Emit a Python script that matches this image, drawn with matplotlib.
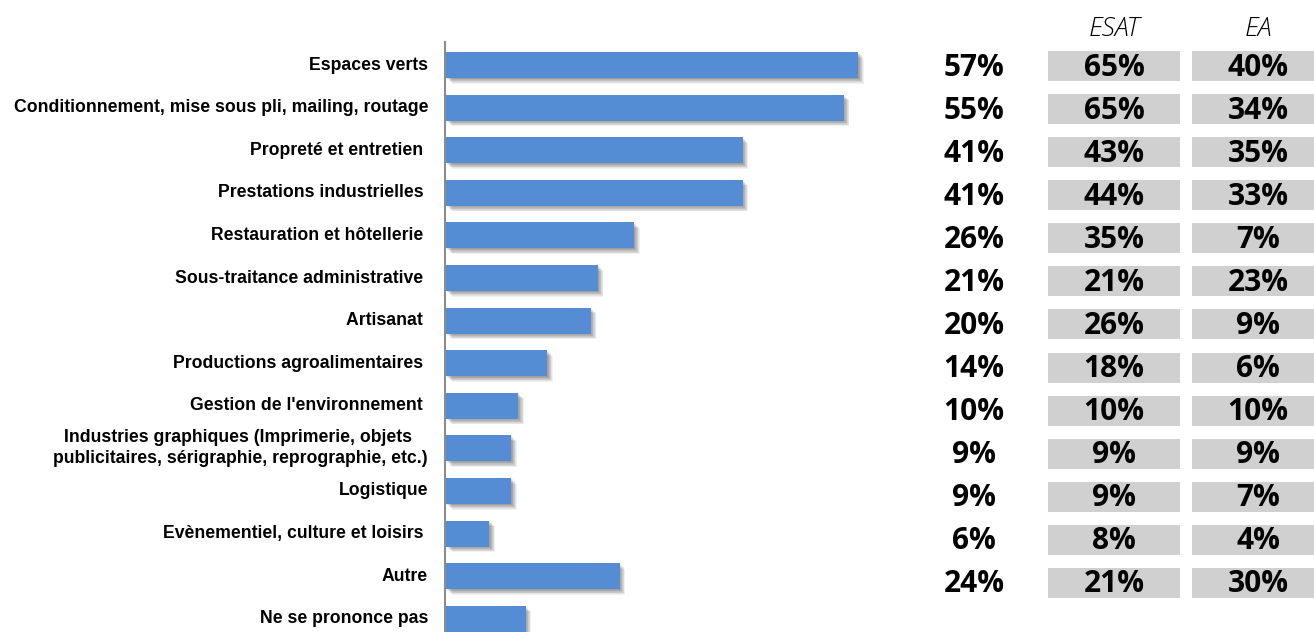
import matplotlib
matplotlib.use("Agg")
import matplotlib.pyplot as plt
import matplotlib.patheffects as pe

categories = [
    "Espaces verts",
    "Conditionnement, mise sous pli, mailing, routage",
    "Propreté et entretien ",
    "Prestations industrielles ",
    "Restauration et hôtellerie ",
    "Sous-traitance administrative ",
    "Artisanat ",
    "Productions agroalimentaires ",
    "Gestion de l'environnement ",
    "Industries graphiques (Imprimerie, objets \npublicitaires, sérigraphie, reprographie, etc.)",
    "Logistique",
    "Evènementiel, culture et loisirs ",
    "Autre",
    "Ne se prononce pas",
]
total = [57, 55, 41, 41, 26, 21, 20, 14, 10, 9, 9, 6, 24, 11]
esat = [65, 65, 43, 44, 35, 21, 26, 18, 10, 9, 9, 8, 21]
ea = [40, 34, 35, 33, 7, 23, 9, 6, 10, 9, 7, 4, 30]
column_headers = ["ESAT", "EA"]

W, H, DPI = 1314, 632, 100
BAR_COLOR = "#548DD4"
BOX_COLOR = "#D0D0D0"

fig = plt.figure(figsize=(W / DPI, H / DPI), dpi=DPI)

# Bar panel
ax = fig.add_axes([445 / W, 0, 480 / W, (H - 42) / H])
ax.set_xlim(0, 480 / 7.23)
ax.set_ylim(13.31, -0.54)
ypos = list(range(len(categories)))

# soft drop shadow built from several faint offset copies
shadow = []
for k in range(8, 0, -1):
    off = 0.5 * k
    shadow.append(pe.SimplePatchShadow(offset=(off, -off), shadow_rgbFace="#000000",
                                       alpha=0.055))
shadow.append(pe.Normal())

bars = ax.barh(ypos, total, height=0.61, color=BAR_COLOR, left=0.15, zorder=2)
for b in bars:
    b.set_path_effects(shadow)

for s in ["top", "right", "bottom"]:
    ax.spines[s].set_visible(False)
ax.spines["left"].set_color("#8C8C8C")
ax.spines["left"].set_linewidth(1.5)
ax.set_xticks([])
ax.set_yticks([])
ax.patch.set_alpha(0)

# Category labels
for y, lab in zip(ypos, categories):
    ax.annotate(lab, xy=(0, y), xycoords=("axes fraction", "data"),
                xytext=(-17, 0), textcoords="offset pixels",
                ha="right", va="center", multialignment="center",
                fontsize=12.7, fontweight="bold", family="Liberation Sans",
                linespacing=1.3, color="#000000", annotation_clip=False)

# Value table on the right, drawn in pixel space
tab = fig.add_axes([0, 0, 1, 1])
tab.set_xlim(0, W)
tab.set_ylim(H, 0)
tab.axis("off")
tab.patch.set_alpha(0)

row0, step = 66, 43.08
col_total, col_esat, col_ea = 974, 1114, 1258
box_w, box_h = 132, 30

num_font = dict(family=["Open Sans", "DejaVu Sans"], fontweight="bold",
                fontsize=21.5, color="#000000", ha="center", va="baseline")

for hdr, cx in zip(column_headers, [col_esat, col_ea]):
    tab.text(cx, 36, hdr, family=["Open Sans", "DejaVu Sans"], style="italic",
             fontweight="light", fontsize=19, ha="center", va="baseline",
             color="#000000")

for i, (t, e, a) in enumerate(zip(total, esat, ea)):
    cy = row0 + step * i
    tab.text(col_total, cy + 9.5, f"{t}%", **num_font)
    for cx, v in ((col_esat, e), (col_ea, a)):
        tab.add_patch(plt.Rectangle((cx - box_w / 2, cy - box_h / 2), box_w, box_h,
                                    facecolor=BOX_COLOR, edgecolor="none"))
        tab.text(cx, cy + 9.5, f"{v}%", **num_font)

fig.savefig("out.png", dpi=DPI)
